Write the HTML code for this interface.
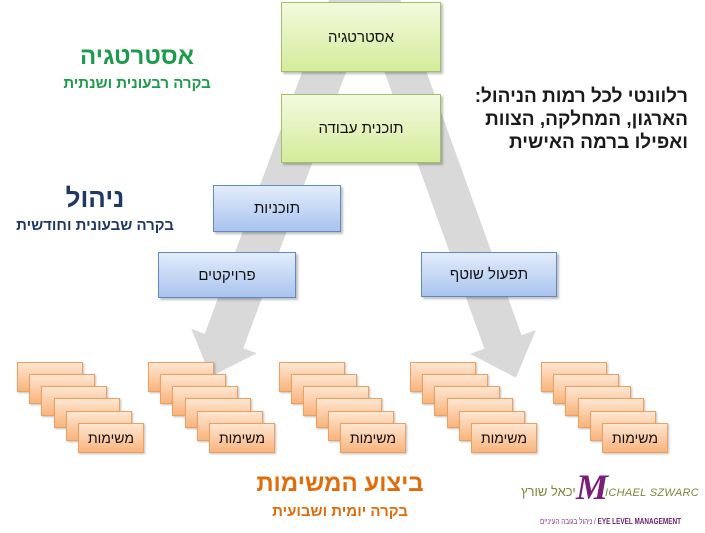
<!DOCTYPE html>
<html><head><meta charset="utf-8">
<style>
html,body{margin:0;padding:0;background:#fff;}
body{width:705px;height:533px;position:relative;overflow:hidden;font-family:"Liberation Sans","DejaVu Sans",sans-serif;}
.abs{position:absolute;}
.box{position:absolute;box-sizing:border-box;display:flex;align-items:center;justify-content:center;direction:rtl;color:#111;}
.green{background:linear-gradient(#f3fadf,#d4ec9b);border:1px solid #a2c065;box-shadow:2px 2px 2px rgba(0,0,0,0.25);font-size:15px;}
.blue{background:linear-gradient(#e3ecfa,#a9c4ee);border:1px solid #5f8ac4;box-shadow:2px 2px 2px rgba(0,0,0,0.25);font-size:15px;}
.or{position:absolute;box-sizing:border-box;width:66px;height:30px;background:linear-gradient(#fee6d2,#f9b47c);border:1px solid #eea060;box-shadow:1px 1px 2px rgba(0,0,0,0.25);display:flex;align-items:center;justify-content:center;direction:rtl;font-size:14px;color:#111;}
.t{position:absolute;direction:rtl;text-align:center;white-space:nowrap;font-weight:bold;}
</style></head><body>

<svg class="abs" style="left:0;top:0" width="705" height="533">
<polygon fill="#d9d9d9" points="328.9,0 372.9,0 243.3,348.2 256.8,353.2 210.7,376.6 191.2,328.8 204.7,333.8"/>
<polygon fill="#d9d9d9" points="358.5,0 400.5,0 521.6,335.3 535.9,330.1 515.9,377.7 470.1,353.9 484.4,348.7"/>
</svg>

<div class="box green" style="left:281px;top:2px;width:160px;height:70px;">אסטרטגיה</div>
<div class="box green" style="left:281px;top:94px;width:160px;height:69px;">תוכנית עבודה</div>

<div class="box blue" style="left:213px;top:185px;width:128px;height:47px;">תוכניות</div>
<div class="box blue" style="left:158px;top:252px;width:138px;height:46px;">פרויקטים</div>
<div class="box blue" style="left:421px;top:252px;width:136px;height:45px;">תפעול שוטף</div>

<div class="or" style="left:17px;top:362px"></div><div class="or" style="left:29px;top:374px"></div><div class="or" style="left:41px;top:386px"></div><div class="or" style="left:54px;top:398px"></div><div class="or" style="left:66px;top:411px"></div><div class="or" style="left:78px;top:423px">משימות</div>
<div class="or" style="left:148px;top:362px"></div><div class="or" style="left:160px;top:374px"></div><div class="or" style="left:172px;top:386px"></div><div class="or" style="left:185px;top:398px"></div><div class="or" style="left:197px;top:411px"></div><div class="or" style="left:209px;top:423px">משימות</div>
<div class="or" style="left:279px;top:362px"></div><div class="or" style="left:291px;top:374px"></div><div class="or" style="left:303px;top:386px"></div><div class="or" style="left:316px;top:398px"></div><div class="or" style="left:328px;top:411px"></div><div class="or" style="left:340px;top:423px">משימות</div>
<div class="or" style="left:410px;top:362px"></div><div class="or" style="left:422px;top:374px"></div><div class="or" style="left:434px;top:386px"></div><div class="or" style="left:447px;top:398px"></div><div class="or" style="left:459px;top:411px"></div><div class="or" style="left:471px;top:423px">משימות</div>
<div class="or" style="left:541px;top:362px"></div><div class="or" style="left:553px;top:374px"></div><div class="or" style="left:565px;top:386px"></div><div class="or" style="left:578px;top:398px"></div><div class="or" style="left:590px;top:411px"></div><div class="or" style="left:602px;top:423px">משימות</div>

<div class="t" style="left:37px;width:200px;top:43px;font-size:24px;color:#1d9b4b;">אסטרטגיה</div>
<div class="t" style="left:37px;width:200px;top:75px;font-size:15px;color:#1d9b4b;">בקרה רבעונית ושנתית</div>
<div class="t" style="left:0px;width:190px;top:183px;font-size:26px;color:#1f3864;">ניהול</div>
<div class="t" style="left:0px;width:190px;top:217px;font-size:15px;color:#1f3864;">בקרה שבעונית וחודשית</div>

<div class="t" style="right:17px;top:85px;font-size:19px;line-height:23px;text-align:right;color:#1a1a1a;">רלוונטי לכל רמות הניהול:<br>הארגון, המחלקה, הצוות<br>ואפילו ברמה האישית</div>

<div class="t" style="left:190px;width:300px;top:470px;font-size:24px;color:#e36c0a;">ביצוע המשימות</div>
<div class="t" style="left:190px;width:300px;top:503px;font-size:15px;color:#e36c0a;">בקרה יומית ושבועית</div>

<div class="abs" style="left:521px;top:484px;font-size:13px;color:#7a8a3a;direction:rtl;white-space:nowrap;">יכאל שורץ</div>
<div class="abs" style="left:576px;top:469px;font-size:36px;font-style:italic;font-weight:bold;font-family:'Liberation Serif',serif;color:#7b1f7b;line-height:36px;">M</div>
<div class="abs" style="left:605px;top:487px;font-size:11px;font-style:italic;color:#7a8a3a;white-space:nowrap;letter-spacing:0.3px;">ICHAEL SZWARC</div>
<div class="abs" style="left:540px;top:517px;font-size:8px;color:#8a3a8a;white-space:nowrap;transform:scaleX(0.8);transform-origin:left top;">ניהול בגובה העיניים / <b style="color:#6a1f6a">EYE LEVEL MANAGEMENT</b></div>

</body></html>
